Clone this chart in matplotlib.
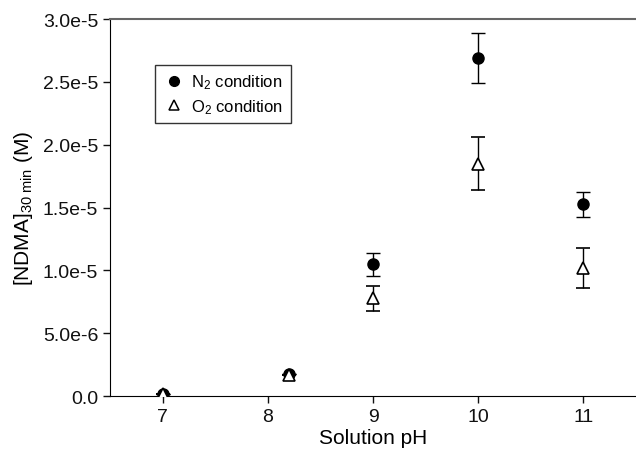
import matplotlib
matplotlib.use("Agg")
from matplotlib import pyplot as plt
from matplotlib.lines import Line2D
from matplotlib.ticker import FuncFormatter

plt.rcParams['font.family'] = ['Liberation Sans', 'DejaVu Sans']
plt.rcParams['mathtext.fontset'] = 'custom'
plt.rcParams['mathtext.rm'] = 'Liberation Sans'
plt.rcParams['mathtext.it'] = 'Liberation Sans'

ph = [7, 8.2, 9, 10, 11]
n2 = [0.2e-6, 1.8e-6, 1.05e-5, 2.69e-5, 1.525e-5]
n2_err = [0, 0, 0.9e-6, 2.0e-6, 1.0e-6]
o2 = [0.15e-6, 1.7e-6, 7.8e-6, 1.85e-5, 1.02e-5]
o2_err = [0, 0, 1.0e-6, 2.1e-6, 1.6e-6]

yticks = [0, 5e-6, 1e-5, 1.5e-5, 2e-5, 2.5e-5, 3e-5]
xticks = [7, 8, 9, 10, 11]


def sci(v, pos):
    if v == 0:
        return "0.0"
    m, e = f"{v:.1e}".split("e")
    return f"{m}e{int(e)}"


fig = plt.figure(figsize=(6.36, 4.56), dpi=100)
ax = fig.add_axes([0.173, 0.129, 0.827, 0.827])

ax.errorbar(ph, n2, yerr=n2_err, fmt='o', color='black', ms=8,
            capsize=5, elinewidth=1, capthick=1, zorder=3)
ax.errorbar(ph, o2, yerr=o2_err, fmt='^', mfc='white', mec='black', ecolor='black',
            ms=8, mew=1.2, capsize=5, elinewidth=1, capthick=1, zorder=4)

ax.set_xlim(6.5, 11.5)
ax.set_ylim(0, 3e-5)
ax.set_xticks(xticks)
ax.set_yticks(yticks)
ax.yaxis.set_major_formatter(FuncFormatter(sci))
ax.tick_params(labelsize=14, direction='out', length=5, width=1, colors='#111111')
ax.spines['right'].set_visible(False)
ax.spines['top'].set_color('#666666')
ax.spines['top'].set_linewidth(1.5)

ax.set_xlabel("Solution pH", fontsize=15, labelpad=2)
ax.set_ylabel("[NDMA]$_{30\\ min}$ (M)", fontsize=15, labelpad=6)

handles = [
    Line2D([], [], ls='none', marker='o', color='black', ms=7),
    Line2D([], [], ls='none', marker='^', mfc='white', mec='black', ms=7, mew=1.1),
]
leg = ax.legend(handles, ['N$_2$ condition', 'O$_2$ condition'],
                loc='upper left', bbox_to_anchor=(0.07, 0.9), fontsize=12,
                frameon=True, fancybox=False, edgecolor='black',
                handletextpad=0.4, borderpad=0.45, handlelength=1.3, labelspacing=0.35)
leg.get_frame().set_linewidth(1)

fig.savefig("out.png", dpi=100)
